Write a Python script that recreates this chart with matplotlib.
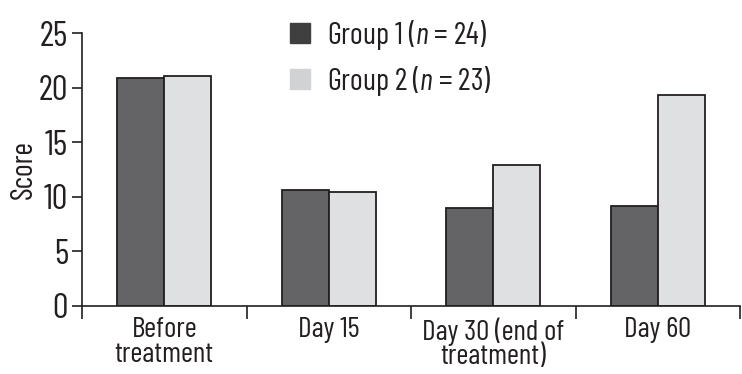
import numpy as np
import matplotlib
matplotlib.use('Agg')
import matplotlib.pyplot as plt
from matplotlib.patches import Patch

# ── data ──────────────────────────────────────────────────────────────────────
categories = ['Before\ntreatment', 'Day 15', 'Day 30 (end of\ntreatment)', 'Day 60']
group1 = [20.85, 10.6, 9.0, 9.15]
group2 = [21.05, 10.4, 12.95, 19.35]
labels = [r'Group 1 ($\mathit{n}$ = 24)', r'Group 2 ($\mathit{n}$ = 23)']
yticks = [0, 5, 10, 15, 20, 25]

FONT = 'Barlow Condensed'
plt.rcParams['font.family'] = [FONT, 'DejaVu Sans']
plt.rcParams['mathtext.fontset'] = 'custom'
plt.rcParams['mathtext.rm'] = FONT
plt.rcParams['mathtext.it'] = FONT + ':italic'
TXT = '#231f20'

fig = plt.figure(figsize=(7.42, 3.74), dpi=100)
ax = fig.add_axes([82 / 742, 1 - 306 / 374, (740 - 82) / 742, (306 - 33) / 374])

x = np.arange(len(categories))
w = 0.286
ax.bar(x - w / 2, group1, w, color='#646466', edgecolor=TXT, linewidth=1.3)
ax.bar(x + w / 2, group2, w, color='#dfe0e2', edgecolor=TXT, linewidth=1.3)

ax.set_xlim(-0.5, len(categories) - 0.5)
ax.set_ylim(0, 25)
ax.set_yticks(yticks)
ax.tick_params(axis='y', labelsize=25, length=7, width=1.2, colors=TXT, pad=3)

# category boundaries as major ticks, labels on minor ticks
ax.set_xticks(np.arange(len(categories) + 1) - 0.5)
ax.set_xticklabels([])
ax.set_xticks(x, minor=True)
ax.set_xticklabels(categories, minor=True, fontsize=21, color=TXT, linespacing=0.92)
ax.tick_params(axis='x', which='major', length=9, width=1.2, colors=TXT)
ax.tick_params(axis='x', which='minor', length=0, pad=8)

for s in ['top', 'right']:
    ax.spines[s].set_visible(False)
for s in ['left', 'bottom']:
    ax.spines[s].set_linewidth(1.2)
    ax.spines[s].set_color(TXT)

ax.set_ylabel('Score', fontsize=22, color=TXT, labelpad=1)

handles = [Patch(color='#3f3f40'), Patch(color='#d1d2d4')]
fig.legend(handles, labels, loc='upper left', bbox_to_anchor=(290 / 742, 1 - 18 / 374),
           frameon=False, fontsize=22, handlelength=0.65, handleheight=0.65,
           handletextpad=0.55, labelspacing=0.38, borderpad=0, borderaxespad=0,
           labelcolor=TXT)

fig.savefig('out.png', dpi=100)
